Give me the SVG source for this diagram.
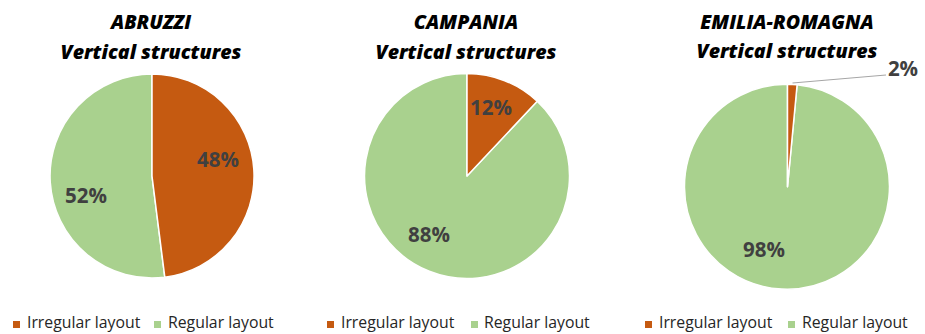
<svg xmlns="http://www.w3.org/2000/svg" width="925" height="334" viewBox="0 0 925 334">
  <style>
    .title { font-family: "Open Sans", "Liberation Sans", sans-serif; font-weight: 800; font-style: italic; font-size: 19.6px; fill: #000000; text-anchor: middle; }
    .pct { font-family: "Open Sans", "Liberation Sans", sans-serif; font-weight: bold; font-size: 20.5px; fill: #404040; text-anchor: middle; }
    .legend { font-family: "Open Sans", "Liberation Sans", sans-serif; font-size: 15.8px; fill: #262626; }
    .irr { fill: #C55A11; stroke: #FFFFFF; stroke-width: 1.5; stroke-linejoin: round; }
    .reg { fill: #A9D18E; stroke: #FFFFFF; stroke-width: 1.5; stroke-linejoin: round; }
    .sw-irr { fill: #C55A11; }
    .sw-reg { fill: #A9D18E; }
    .leader { stroke: #A6A6A6; stroke-width: 1.2; fill: none; }
  </style>
  <rect width="925" height="334" fill="#FFFFFF"/>

  <!-- Abruzzi: 48% irregular / 52% regular -->
  <g id="chart-abruzzi">
    <text class="title" x="151" y="29">ABRUZZI</text>
    <text class="title" x="151" y="59">Vertical structures</text>
    <path class="reg" d="M152,176 L164.8,277.2 A102,102 0 1 1 152,74 Z"/>
    <path class="irr" d="M152,176 L152,74 A102,102 0 0 1 164.8,277.2 Z"/>
    <text class="pct" x="218" y="167">48%</text>
    <text class="pct" x="86" y="203">52%</text>
    <rect class="sw-irr" x="13" y="321" width="7" height="7"/>
    <text class="legend" x="27" y="328">Irregular layout</text>
    <rect class="sw-reg" x="154" y="321" width="7" height="7"/>
    <text class="legend" x="168" y="328">Regular layout</text>
  </g>

  <!-- Campania: 12% irregular / 88% regular -->
  <g id="chart-campania">
    <text class="title" x="466" y="29">CAMPANIA</text>
    <text class="title" x="466" y="59">Vertical structures</text>
    <path class="reg" d="M467,176 L537.2,101.3 A102.5,102.5 0 1 1 467,73.5 Z"/>
    <path class="irr" d="M467,176 L467,73.5 A102.5,102.5 0 0 1 537.2,101.3 Z"/>
    <text class="pct" x="491" y="115">12%</text>
    <text class="pct" x="429" y="242">88%</text>
    <rect class="sw-irr" x="327" y="321" width="7" height="7"/>
    <text class="legend" x="341" y="328">Irregular layout</text>
    <rect class="sw-reg" x="471" y="321" width="7" height="7"/>
    <text class="legend" x="484" y="328">Regular layout</text>
  </g>

  <!-- Emilia-Romagna: 2% irregular / 98% regular -->
  <g id="chart-emilia-romagna">
    <text class="title" x="787" y="29">EMILIA-ROMAGNA</text>
    <text class="title" x="787" y="58">Vertical structures</text>
    <path class="reg" d="M787.5,186.7 L797.1,84.7 A102.5,102.5 0 1 1 787.5,84.2 Z"/>
    <path class="irr" d="M787.5,186.7 L787.5,84.2 A102.5,102.5 0 0 1 797.1,84.7 Z"/>
    <path class="leader" d="M792.5,83 L886,75"/>
    <text class="pct" x="903" y="76">2%</text>
    <text class="pct" x="764" y="257">98%</text>
    <rect class="sw-irr" x="645" y="321" width="7" height="7"/>
    <text class="legend" x="659" y="328">Irregular layout</text>
    <rect class="sw-reg" x="788" y="321" width="7" height="7"/>
    <text class="legend" x="802" y="328">Regular layout</text>
  </g>
</svg>
